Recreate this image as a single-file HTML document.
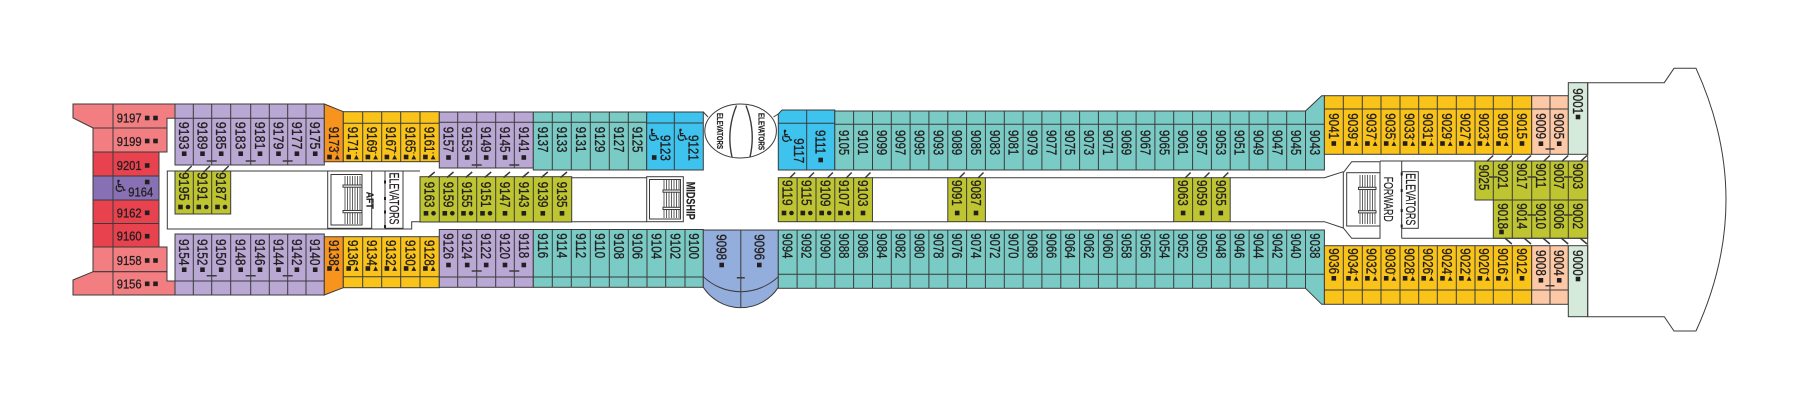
<!DOCTYPE html>
<html><head><meta charset="utf-8"><style>
html,body{margin:0;padding:0;background:#fff;}
svg{display:block}
text{font-family:"Liberation Sans",Arial,sans-serif;fill:#231f20}
.v{font-size:14.5px;stroke:#231f20;stroke-width:.3px}
.h{font-size:12.5px;stroke:#231f20;stroke-width:.3px}
.wc{font-family:"DejaVu Sans",sans-serif;font-size:17px}
.lb{stroke:#231f20;stroke-width:.2px}
</style></head><body>
<svg width="1800" height="400" viewBox="0 0 1800 400" xmlns="http://www.w3.org/2000/svg">
<defs>
<g id="s"><rect x="-2.3" y="-2.3" width="4.6" height="4.6" fill="#231f20"/></g>
<g id="st"><rect x="-6.6" y="-2.3" width="4.6" height="4.6" fill="#231f20"/><polygon points="1,2.4 5.8,2.4 3.4,-2.2" fill="#231f20"/><rect x="2.9" y="-4.8" width="1" height="1.4" fill="#231f20"/></g>
<g id="sd"><rect x="-6" y="-2.3" width="4.6" height="4.6" fill="#231f20"/><circle cx="3.8" cy="0" r="2.3" fill="#231f20"/></g>
</defs>

<g stroke="#3b3b3b" stroke-width="1" fill="none">
<!-- stern -->
<path fill="#F27E82" d="M73,104H175V118.3H167V128H93L73,118Z"/>
<rect fill="#F27E82" x="93" y="128" width="74" height="24"/>
<rect fill="#E8424F" x="93" y="152" width="66" height="24"/>
<rect fill="#8870B5" x="93" y="176" width="66" height="24"/>
<rect fill="#E8424F" x="93" y="200" width="66" height="23.5"/>
<rect fill="#E8424F" x="93" y="223.5" width="66" height="23.5"/>
<rect fill="#F27E82" x="93" y="247" width="74" height="24.7"/>
<path fill="#F27E82" d="M93,271.7H167V281H175V295H73V280Z"/>
<path d="M113,104V295"/>

<!-- aft lavender -->
<rect fill="#B9A8D4" x="175" y="104" width="149.3" height="61"/>
<path d="M193.3,104V165M211.7,104V165M230.7,104V165M250.7,104V165M269.3,104V165M287.7,104V165M306,104V165M175,118.3H324.3"/>
<rect fill="#B9A8D4" x="175" y="234" width="149.3" height="61"/>
<path d="M193.3,234V295M211.7,234V295M230.7,234V295M250.7,234V295M269.3,234V295M287.7,234V295M306,234V295M175,281H324.3"/>

<!-- orange -->
<path fill="#F7941E" d="M324.3,104L343.3,111.7V161.7H324.3Z"/>
<path fill="#F7941E" d="M324.3,236.7H343.3V287.7L324.3,295Z"/>

<!-- yellow aft -->
<rect fill="#F9C31A" x="343.3" y="111.7" width="96" height="50"/>
<path d="M362.7,111.7V161.7M381.7,111.7V161.7M400.7,111.7V161.7M420,111.7V161.7M343.3,123.3H439.3"/>
<rect fill="#F9C31A" x="343.3" y="236.7" width="96" height="51"/>
<path d="M362.7,236.7V287.7M381.7,236.7V287.7M400.7,236.7V287.7M420,236.7V287.7M343.3,276.7H439.3"/>

<!-- lavender mid -->
<rect fill="#B9A8D4" x="439.3" y="112" width="94" height="56"/>
<path d="M457.7,112V168M476.7,112V168M495.7,112V168M514.3,112V168M439.3,122.3H533.3"/>
<rect fill="#B9A8D4" x="439.3" y="229.5" width="94" height="57.8"/>
<path d="M457.7,229.5V287.3M476.7,229.5V287.3M495.7,229.5V287.3M514.3,229.5V287.3M439.3,277H533.3"/>

<!-- teal mid -->
<rect fill="#7ACBC6" x="533.3" y="112" width="113.4" height="58"/>
<path d="M552.3,112V170M571.3,112V170M590.3,112V170M609.3,112V170M628.3,112V170M533.3,122.3H646.7"/>
<rect fill="#3DC3EE" x="646.7" y="112" width="56.6" height="58"/>
<path d="M674.3,112V170M646.7,123H703.3M703.3,112L708,117"/>
<rect fill="#7ACBC6" x="533.3" y="229.5" width="170" height="57.8"/>
<path d="M552.3,229.5V287.3M571.3,229.5V287.3M590.3,229.5V287.3M609.3,229.5V287.3M628.3,229.5V287.3M647,229.5V287.3M665.7,229.5V287.3M685,229.5V287.3M533.3,277H703.3"/>

<!-- periwinkle -->
<path fill="#93ADDD" d="M703.3,230H778.3V287.3A44.7,44.7 0 0 1 703.3,287.3Z"/>
<path d="M703.3,276.7A54.4,54.4 0 0 0 778.3,276.7M740.8,230V307.7"/>

<!-- elevator ellipse -->
<ellipse fill="#fff" cx="740.6" cy="131" rx="35.8" ry="27"/>
<path d="M773.5,117L778.3,114"/>
<path stroke-width="1.4" d="M736.5,105.5Q726,131 732,157M746,105.5Q756,131 750,157"/>

<!-- blue right -->
<path fill="#3DC3EE" d="M778.3,114L782,110H834.8V170H778.3Z"/>
<path d="M806.7,110V170M778.3,123.3H834.8"/>

<!-- teal main top -->
<rect fill="#7ACBC6" x="834.8" y="111" width="470.7" height="59"/>
<path fill="#7ACBC6" d="M1305.5,111L1321.7,95.7H1324.4V170H1305.5Z"/>
<path d="M853.6,111V170M872.5,111V170M891.3,111V170M910.1,111V170M928.9,111V170M947.8,111V170M966.6,111V170M985.4,111V170M1004.3,111V170M1023.1,111V170M1041.9,111V170M1060.8,111V170M1079.6,111V170M1098.4,111V170M1117.2,111V170M1136.1,111V170M1154.9,111V170M1173.7,111V170M1192.6,111V170M1211.4,111V170M1230.2,111V170M1249.1,111V170M1267.9,111V170M1286.7,111V170M834.8,124.3H1324.4"/>

<!-- teal main bottom -->
<rect fill="#7ACBC6" x="778.3" y="230" width="527.2" height="58.3"/>
<path fill="#7ACBC6" d="M1305.5,230H1324.4V304.3H1321.7L1305.5,288.3Z"/>
<path d="M797.1,230V288.3M816,230V288.3M834.8,230V288.3M853.6,230V288.3M872.5,230V288.3M891.3,230V288.3M910.1,230V288.3M928.9,230V288.3M947.8,230V288.3M966.6,230V288.3M985.4,230V288.3M1004.3,230V288.3M1023.1,230V288.3M1041.9,230V288.3M1060.8,230V288.3M1079.6,230V288.3M1098.4,230V288.3M1117.2,230V288.3M1136.1,230V288.3M1154.9,230V288.3M1173.7,230V288.3M1192.6,230V288.3M1211.4,230V288.3M1230.2,230V288.3M1249.1,230V288.3M1267.9,230V288.3M1286.7,230V288.3M778.3,274.3H1324.4"/>

<!-- forward yellow / peach / mint -->
<rect fill="#F9C31A" x="1324.4" y="95.7" width="207.3" height="58.6"/>
<path d="M1343.3,95.7V154.3M1362.3,95.7V154.3M1381,95.7V154.3M1400,95.7V154.3M1418.7,95.7V154.3M1437.3,95.7V154.3M1456.3,95.7V154.3M1475,95.7V154.3M1493.3,95.7V154.3M1512.3,95.7V154.3M1324.4,109H1531.7"/>
<rect fill="#FCC8A6" x="1531.7" y="95.7" width="36.6" height="58.6"/>
<path d="M1550,95.7V154.3M1531.7,109H1568.3"/>
<rect fill="#D5EADB" x="1568.3" y="82.7" width="19.4" height="71.6"/>
<rect fill="#F9C31A" x="1324.4" y="245.7" width="207.3" height="58.6"/>
<path d="M1343.3,245.7V304.3M1362.3,245.7V304.3M1381,245.7V304.3M1400,245.7V304.3M1418.7,245.7V304.3M1437.3,245.7V304.3M1456.3,245.7V304.3M1475,245.7V304.3M1493.3,245.7V304.3M1512.3,245.7V304.3M1324.4,290H1531.7"/>
<rect fill="#FCC8A6" x="1531.7" y="245.7" width="36.6" height="58.6"/>
<path d="M1550,245.7V304.3M1531.7,290H1568.3"/>
<rect fill="#D5EADB" x="1568.3" y="245.7" width="19.4" height="71"/>

<!-- olive -->
<rect fill="#BEC530" x="175" y="171" width="55.7" height="43"/>
<path d="M193.3,171V214M211.7,171V214"/>
<rect fill="#BEC530" x="420" y="176.7" width="151.7" height="45.3"/>
<path d="M439.3,176.7V222M457.7,176.7V222M476.7,176.7V222M495.7,176.7V222M514.3,176.7V222M533.3,176.7V222M552.3,176.7V222"/>
<rect fill="#BEC530" x="778.3" y="177.7" width="94.15" height="44"/>
<path d="M797.1,177.7V221.7M816,177.7V221.7M834.8,177.7V221.7M853.6,177.7V221.7"/>
<rect fill="#BEC530" x="947.8" y="177.7" width="37.6" height="44"/>
<path d="M966.6,177.7V221.7"/>
<rect fill="#BEC530" x="1173.7" y="177.7" width="56.5" height="44"/>
<path d="M1192.6,177.7V221.7M1211.4,177.7V221.7"/>
<rect fill="#BEC530" x="1475" y="161" width="112.7" height="39"/>
<path d="M1493.3,161V200M1512.3,161V200M1531.7,161V200M1550,161V200M1568.3,161V200"/>
<rect fill="#BEC530" x="1493.3" y="200" width="94.4" height="38.3"/>
<path d="M1512.3,200V238.3M1531.7,200V238.3M1550,200V238.3M1568.3,200V238.3"/>

<!-- corridor lines -->
<path d="M420,171H167.3V229H411.7V221.7H420"/>
<path d="M571.7,177.7H646.7M571.7,221.7H646.7"/>
<path d="M872.4,177.7H947.8M985.4,177.7H1173.7M1230.2,177.7H1324.4L1343.3,171.7M872.4,221.7H947.8M985.4,221.7H1173.7M1230.2,221.7H1324.4L1343.3,228"/>
<path d="M1380,161H1587.7M1401.7,238.3H1587.7M1587.7,82.7V316.7"/>

<!-- AFT stairs -->
<rect fill="#fff" x="327.7" y="171" width="44" height="57.3"/>
<rect x="331" y="174.5" width="31" height="50.5"/>
<path stroke-width="0.8" d="M345,176V224M347.5,176V224M350,176V224M352.5,176V224M355,176V224M357.5,176V224M360,176V224"/>
<rect fill="#fff" x="343" y="185" width="19" height="2.2"/>
<rect fill="#fff" x="343" y="210.5" width="19" height="2.2"/>
<rect fill="#fff" x="385" y="171" width="18" height="57.3"/>

<!-- MIDSHIP stairs -->
<rect fill="#fff" x="646.7" y="176.7" width="36.6" height="45"/>
<rect x="649.5" y="179.5" width="31" height="39.5"/>
<path stroke-width="0.8" d="M664,180V218M666.5,180V218M669,180V218M671.5,180V218M674,180V218M676.5,180V218M679,180V218"/>
<rect fill="#fff" x="663" y="190" width="17.5" height="2.2"/>
<rect fill="#fff" x="663" y="207.3" width="17.5" height="2.2"/>

<!-- FORWARD stairs -->
<path fill="#fff" d="M1343.3,172.7L1351.7,161.7H1380V238.3H1351.7L1343.3,228Z"/>
<rect x="1346.7" y="172.7" width="33.3" height="53.3"/>
<path stroke-width="0.8" d="M1360,175V224M1362.5,175V224M1365,175V224M1367.5,175V224M1370,175V224M1372.5,175V224M1375,175V224"/>
<rect fill="#fff" x="1358.5" y="187.3" width="17.5" height="2.2"/>
<rect fill="#fff" x="1358.5" y="210.7" width="17.5" height="2.2"/>
<path d="M1401.7,161V238.3"/>
<rect fill="#fff" x="1401.7" y="171.7" width="16.6" height="56.6"/>

<!-- bow -->
<path d="M1587.7,82.7H1664.3L1674,68.3H1696Q1756,200 1696,331H1674L1664.3,316.7H1587.7"/>

<!-- ticks -->
<path stroke-width="1.5" d="M206.7,161H216.7M245.7,161H255.7M282.7,161H292.7M206.7,275.7H216.7M245.7,275.7H255.7M282.7,275.7H292.7M471.7,165H481.7M509.3,165H519.3M471.7,271H481.7M509.3,271H519.3M736.8,277.7H744.8M1545.5,149H1554.5M1545.5,285.7H1554.5M1489,177H1497.6M1527.4,177H1536M1564,177H1572.6M1527.4,215H1536M1564,215H1572.6"/>

<!-- slashes -->
<path stroke-width="1.5" d="M185.2,172.3L191.7,166M203.5,172.3L210,166M222.2,172.3L228.7,166M428.2,177.5L434.7,172M447,177.5L453.5,172M465.7,177.5L472.2,172M484.7,177.5L491.2,172M503.5,177.5L510,172M522.3,177.5L528.8,172M541.3,177.5L547.8,172M560.5,177.5L567,172M789.7,178L795.2,172.5M808.5,178L814,172.5M827.4,178L832.9,172.5M846.2,178L851.7,172.5M865,178L870.5,172.5M959.2,178L964.7,172.5M978,178L983.5,172.5M1185.1,178L1190.6,172.5M1204,178L1209.5,172.5M1222.8,178L1228.3,172.5M1486.7,161.5L1493.2,155.5M1505.3,161.5L1511.8,155.5M1524.5,161.5L1531,155.5M1543.4,161.5L1549.9,155.5M1561.7,161.5L1568.2,155.5M1580.5,161.5L1587,155.5M1504.8,238L1511.8,244M1524,238L1531,244M1542.9,238L1549.9,244M1561.2,238L1568.2,244M1580,238L1587,244"/>
</g>

<!-- elevator box ticks -->
<g fill="#231f20">
<rect x="384" y="180.5" width="2" height="3"/><rect x="384" y="197" width="2" height="3"/><rect x="384" y="210.5" width="2" height="3"/><rect x="384" y="225" width="2" height="3"/>
<rect x="1400.7" y="172.5" width="2" height="3"/><rect x="1400.7" y="189" width="2" height="3"/><rect x="1400.7" y="209" width="2" height="3"/><rect x="1400.7" y="224.5" width="2" height="3"/>
</g>

<!-- horizontal stern labels -->
<text class="h" x="116.7" y="122.7" textLength="25" lengthAdjust="spacingAndGlyphs">9197</text>
<text class="h" x="116.7" y="146" textLength="25" lengthAdjust="spacingAndGlyphs">9199</text>
<text class="h" x="116.7" y="170" textLength="25" lengthAdjust="spacingAndGlyphs">9201</text>
<text class="h" x="128.3" y="196.7" textLength="25" lengthAdjust="spacingAndGlyphs">9164</text>
<text class="h" x="116.7" y="217.3" textLength="25" lengthAdjust="spacingAndGlyphs">9162</text>
<text class="h" x="116.7" y="240.7" textLength="25" lengthAdjust="spacingAndGlyphs">9160</text>
<text class="h" x="116.7" y="265" textLength="25" lengthAdjust="spacingAndGlyphs">9158</text>
<text class="h" x="116.7" y="288.3" textLength="25" lengthAdjust="spacingAndGlyphs">9156</text>
<text class="wc" x="113" y="192">♿</text>
<text class="wc" x="646.5" y="141">♿</text>
<text class="wc" x="675" y="141">♿</text>
<text class="wc" x="779.5" y="142">♿</text>

<!-- icons -->
<g>
<use href="#s" x="147.2" y="118"/><use href="#s" x="155.5" y="118"/>
<use href="#s" x="147.2" y="141"/><use href="#s" x="155.5" y="141"/>
<use href="#s" x="147.2" y="165.5"/>
<use href="#s" x="147.2" y="182"/>
<use href="#s" x="147.2" y="212.8"/>
<use href="#s" x="147.2" y="236.2"/>
<use href="#s" x="147.2" y="260.5"/><use href="#s" x="155.5" y="260.5"/>
<use href="#s" x="147.2" y="283.8"/><use href="#s" x="155.5" y="283.8"/>

<use href="#s" x="184.2" y="153.7"/><use href="#s" x="202.5" y="153.7"/><use href="#s" x="221.2" y="153.7"/><use href="#s" x="240.7" y="153.7"/><use href="#s" x="260" y="153.7"/><use href="#s" x="278.5" y="153.7"/><use href="#s" x="296.9" y="153.7"/><use href="#s" x="315.2" y="153.7"/>
<use href="#s" x="184.2" y="269.7"/><use href="#s" x="202.5" y="269.7"/><use href="#s" x="221.2" y="269.7"/><use href="#s" x="240.7" y="269.7"/><use href="#s" x="260" y="269.7"/><use href="#s" x="278.5" y="269.7"/><use href="#s" x="296.9" y="269.7"/><use href="#s" x="315.2" y="269.7"/>

<use href="#st" x="333.8" y="157"/><use href="#st" x="353" y="157"/><use href="#st" x="372.2" y="157"/><use href="#st" x="391.2" y="157"/><use href="#st" x="410.4" y="157"/><use href="#st" x="429.7" y="157"/>
<use href="#st" x="333.8" y="268.5"/><use href="#st" x="353" y="268.5"/><use href="#st" x="372.2" y="268.5"/><use href="#st" x="391.2" y="268.5"/><use href="#st" x="410.4" y="268.5"/><use href="#st" x="429.7" y="268.5"/>

<use href="#s" x="448.5" y="157.5"/><use href="#s" x="467.2" y="157.5"/><use href="#s" x="486.2" y="157.5"/><use href="#s" x="505" y="157.5"/><use href="#s" x="523.8" y="157.5"/>
<use href="#s" x="448.5" y="265"/><use href="#s" x="467.2" y="265"/><use href="#s" x="486.2" y="265"/><use href="#s" x="505" y="265"/><use href="#s" x="523.8" y="265"/>

<use href="#sd" x="184.2" y="207"/><use href="#sd" x="202.5" y="207"/><use href="#sd" x="221.2" y="207"/>
<use href="#sd" x="429.7" y="213.3"/><use href="#sd" x="448.5" y="213.3"/><use href="#sd" x="467.2" y="213.3"/><use href="#sd" x="486.2" y="213.3"/>
<use href="#s" x="505" y="213.3"/><use href="#s" x="523.8" y="213.3"/><use href="#s" x="542.8" y="213.3"/><use href="#s" x="562" y="213.3"/>

<use href="#s" x="654.2" y="157.5"/><use href="#s" x="820.7" y="160"/>
<use href="#s" x="721.7" y="265"/><use href="#s" x="759.3" y="265"/>

<use href="#sd" x="787.7" y="213"/><use href="#sd" x="806.5" y="213"/><use href="#sd" x="825.4" y="213"/><use href="#sd" x="844.2" y="213"/>
<use href="#s" x="863" y="213"/><use href="#s" x="957.2" y="213"/><use href="#s" x="976" y="213"/><use href="#s" x="1183.1" y="213"/><use href="#s" x="1202" y="213"/><use href="#s" x="1220.8" y="213"/>

<use href="#s" x="1333.8" y="143.5"/>
<use href="#st" x="1352.8" y="143.5"/><use href="#st" x="1371.7" y="143.5"/><use href="#st" x="1390.5" y="143.5"/><use href="#st" x="1409.4" y="143.5"/><use href="#st" x="1428" y="143.5"/><use href="#st" x="1446.8" y="143.5"/><use href="#st" x="1465.7" y="143.5"/><use href="#st" x="1484.2" y="143.5"/><use href="#st" x="1502.8" y="143.5"/>
<use href="#s" x="1522" y="143.5"/><use href="#s" x="1540.9" y="143.7"/><use href="#s" x="1559.2" y="143.7"/>
<use href="#s" x="1578" y="117"/>

<use href="#s" x="1333.8" y="278.3"/>
<use href="#st" x="1352.8" y="278.3"/><use href="#st" x="1371.7" y="278.3"/><use href="#st" x="1390.5" y="278.3"/><use href="#st" x="1409.4" y="278.3"/><use href="#st" x="1428" y="278.3"/><use href="#st" x="1446.8" y="278.3"/><use href="#st" x="1465.7" y="278.3"/><use href="#st" x="1484.2" y="278.3"/><use href="#st" x="1502.8" y="278.3"/>
<use href="#s" x="1522" y="278.3"/><use href="#s" x="1540.9" y="280.3"/><use href="#s" x="1559.2" y="280.3"/>
<use href="#s" x="1578" y="279"/>
<use href="#s" x="1501.5" y="232"/>
</g>

<!-- vertical labels: aft lavender -->
<text class="v" transform="translate(179.2,121.7)rotate(90)scale(.86,1)">9193</text>
<text class="v" transform="translate(197.5,121.7)rotate(90)scale(.86,1)">9189</text>
<text class="v" transform="translate(216.2,121.7)rotate(90)scale(.86,1)">9185</text>
<text class="v" transform="translate(235.7,121.7)rotate(90)scale(.86,1)">9183</text>
<text class="v" transform="translate(255,121.7)rotate(90)scale(.86,1)">9181</text>
<text class="v" transform="translate(273.5,121.7)rotate(90)scale(.86,1)">9179</text>
<text class="v" transform="translate(291.9,121.7)rotate(90)scale(.86,1)">9177</text>
<text class="v" transform="translate(310.2,121.7)rotate(90)scale(.86,1)">9175</text>
<text class="v" transform="translate(179.2,239)rotate(90)scale(.82,1)">9154</text>
<text class="v" transform="translate(197.5,239)rotate(90)scale(.82,1)">9152</text>
<text class="v" transform="translate(216.2,239)rotate(90)scale(.82,1)">9150</text>
<text class="v" transform="translate(235.7,239)rotate(90)scale(.82,1)">9148</text>
<text class="v" transform="translate(255,239)rotate(90)scale(.82,1)">9146</text>
<text class="v" transform="translate(273.5,239)rotate(90)scale(.82,1)">9144</text>
<text class="v" transform="translate(291.9,239)rotate(90)scale(.82,1)">9142</text>
<text class="v" transform="translate(310.2,239)rotate(90)scale(.82,1)">9140</text>

<!-- orange + yellow aft -->
<text class="v" transform="translate(328.8,126.7)rotate(90)scale(.8,1)">9173</text>
<text class="v" transform="translate(348,126.7)rotate(90)scale(.8,1)">9171</text>
<text class="v" transform="translate(367.2,126.7)rotate(90)scale(.8,1)">9169</text>
<text class="v" transform="translate(386.2,126.7)rotate(90)scale(.8,1)">9167</text>
<text class="v" transform="translate(405.4,126.7)rotate(90)scale(.8,1)">9165</text>
<text class="v" transform="translate(424.7,126.7)rotate(90)scale(.8,1)">9161</text>
<text class="v" transform="translate(328.8,240)rotate(90)scale(.8,1)">9138</text>
<text class="v" transform="translate(348,240)rotate(90)scale(.8,1)">9136</text>
<text class="v" transform="translate(367.2,240)rotate(90)scale(.8,1)">9134</text>
<text class="v" transform="translate(386.2,240)rotate(90)scale(.8,1)">9132</text>
<text class="v" transform="translate(405.4,240)rotate(90)scale(.8,1)">9130</text>
<text class="v" transform="translate(424.7,240)rotate(90)scale(.8,1)">9128</text>

<!-- lavender mid -->
<text class="v" transform="translate(443.5,126.7)rotate(90)scale(.8,1)">9157</text>
<text class="v" transform="translate(462.2,126.7)rotate(90)scale(.8,1)">9153</text>
<text class="v" transform="translate(481.2,126.7)rotate(90)scale(.8,1)">9149</text>
<text class="v" transform="translate(500,126.7)rotate(90)scale(.8,1)">9145</text>
<text class="v" transform="translate(518.8,126.7)rotate(90)scale(.8,1)">9141</text>
<text class="v" transform="translate(443.5,233.3)rotate(90)scale(.8,1)">9126</text>
<text class="v" transform="translate(462.2,233.3)rotate(90)scale(.8,1)">9124</text>
<text class="v" transform="translate(481.2,233.3)rotate(90)scale(.8,1)">9122</text>
<text class="v" transform="translate(500,233.3)rotate(90)scale(.8,1)">9120</text>
<text class="v" transform="translate(518.8,233.3)rotate(90)scale(.8,1)">9118</text>

<!-- teal mid -->
<text class="v" transform="translate(537.8,126.7)rotate(90)scale(.8,1)">9137</text>
<text class="v" transform="translate(556.8,126.7)rotate(90)scale(.8,1)">9133</text>
<text class="v" transform="translate(575.8,126.7)rotate(90)scale(.8,1)">9131</text>
<text class="v" transform="translate(594.8,126.7)rotate(90)scale(.8,1)">9129</text>
<text class="v" transform="translate(613.8,126.7)rotate(90)scale(.8,1)">9127</text>
<text class="v" transform="translate(632.5,126.7)rotate(90)scale(.8,1)">9125</text>
<text class="v" transform="translate(537.8,233.3)rotate(90)scale(.8,1)">9116</text>
<text class="v" transform="translate(556.8,233.3)rotate(90)scale(.8,1)">9114</text>
<text class="v" transform="translate(575.8,233.3)rotate(90)scale(.8,1)">9112</text>
<text class="v" transform="translate(594.8,233.3)rotate(90)scale(.8,1)">9110</text>
<text class="v" transform="translate(613.8,233.3)rotate(90)scale(.8,1)">9108</text>
<text class="v" transform="translate(632.6,233.3)rotate(90)scale(.8,1)">9106</text>
<text class="v" transform="translate(651.3,233.3)rotate(90)scale(.8,1)">9104</text>
<text class="v" transform="translate(670.3,233.3)rotate(90)scale(.8,1)">9102</text>
<text class="v" transform="translate(689.2,233.3)rotate(90)scale(.8,1)">9100</text>

<!-- blue + periwinkle -->
<text class="v" transform="translate(660.5,135)rotate(90)scale(.8,1)">9123</text>
<text class="v" transform="translate(688.5,135)rotate(90)scale(.8,1)">9121</text>
<text class="v" transform="translate(794,138.3)rotate(90)scale(.8,1)">9117</text>
<text class="v" transform="translate(815.7,130)rotate(90)scale(.8,1)">9111</text>
<text class="v" transform="translate(716.7,234.3)rotate(90)scale(.8,1)">9098</text>
<text class="v" transform="translate(754.3,234.3)rotate(90)scale(.8,1)">9096</text>

<!-- olive aft/mid -->
<text class="v" transform="translate(179.2,172.3)rotate(90)scale(.88,1)">9195</text>
<text class="v" transform="translate(197.5,172.3)rotate(90)scale(.88,1)">9191</text>
<text class="v" transform="translate(216.2,172.3)rotate(90)scale(.88,1)">9187</text>
<text class="v" transform="translate(424.7,181.7)rotate(90)scale(.8,1)">9163</text>
<text class="v" transform="translate(443.5,181.7)rotate(90)scale(.8,1)">9159</text>
<text class="v" transform="translate(462.2,181.7)rotate(90)scale(.8,1)">9155</text>
<text class="v" transform="translate(481.2,181.7)rotate(90)scale(.8,1)">9151</text>
<text class="v" transform="translate(500,181.7)rotate(90)scale(.8,1)">9147</text>
<text class="v" transform="translate(518.8,181.7)rotate(90)scale(.8,1)">9143</text>
<text class="v" transform="translate(537.8,181.7)rotate(90)scale(.8,1)">9139</text>
<text class="v" transform="translate(557,181.7)rotate(90)scale(.8,1)">9135</text>

<!-- main top teal -->
<text class="v" transform="translate(839.2,130)rotate(90)scale(.78,1)">9105</text>
<text class="v" transform="translate(858,130)rotate(90)scale(.78,1)">9101</text>
<text class="v" transform="translate(876.9,130)rotate(90)scale(.78,1)">9099</text>
<text class="v" transform="translate(895.7,130)rotate(90)scale(.78,1)">9097</text>
<text class="v" transform="translate(914.5,130)rotate(90)scale(.78,1)">9095</text>
<text class="v" transform="translate(933.4,130)rotate(90)scale(.78,1)">9093</text>
<text class="v" transform="translate(952.2,130)rotate(90)scale(.78,1)">9089</text>
<text class="v" transform="translate(971,130)rotate(90)scale(.78,1)">9085</text>
<text class="v" transform="translate(989.8,130)rotate(90)scale(.78,1)">9083</text>
<text class="v" transform="translate(1008.7,130)rotate(90)scale(.78,1)">9081</text>
<text class="v" transform="translate(1027.5,130)rotate(90)scale(.78,1)">9079</text>
<text class="v" transform="translate(1046.3,130)rotate(90)scale(.78,1)">9077</text>
<text class="v" transform="translate(1065.2,130)rotate(90)scale(.78,1)">9075</text>
<text class="v" transform="translate(1084,130)rotate(90)scale(.78,1)">9073</text>
<text class="v" transform="translate(1102.8,130)rotate(90)scale(.78,1)">9071</text>
<text class="v" transform="translate(1121.7,130)rotate(90)scale(.78,1)">9069</text>
<text class="v" transform="translate(1140.5,130)rotate(90)scale(.78,1)">9067</text>
<text class="v" transform="translate(1159.3,130)rotate(90)scale(.78,1)">9065</text>
<text class="v" transform="translate(1178.1,130)rotate(90)scale(.78,1)">9061</text>
<text class="v" transform="translate(1197,130)rotate(90)scale(.78,1)">9057</text>
<text class="v" transform="translate(1215.8,130)rotate(90)scale(.78,1)">9053</text>
<text class="v" transform="translate(1234.6,130)rotate(90)scale(.78,1)">9051</text>
<text class="v" transform="translate(1253.5,130)rotate(90)scale(.78,1)">9049</text>
<text class="v" transform="translate(1272.3,130)rotate(90)scale(.78,1)">9047</text>
<text class="v" transform="translate(1291.1,130)rotate(90)scale(.78,1)">9045</text>
<text class="v" transform="translate(1310,130)rotate(90)scale(.78,1)">9043</text>

<!-- main bottom teal -->
<text class="v" transform="translate(782.7,233.3)rotate(90)scale(.78,1)">9094</text>
<text class="v" transform="translate(801.5,233.3)rotate(90)scale(.78,1)">9092</text>
<text class="v" transform="translate(820.4,233.3)rotate(90)scale(.78,1)">9090</text>
<text class="v" transform="translate(839.2,233.3)rotate(90)scale(.78,1)">9088</text>
<text class="v" transform="translate(858,233.3)rotate(90)scale(.78,1)">9086</text>
<text class="v" transform="translate(876.9,233.3)rotate(90)scale(.78,1)">9084</text>
<text class="v" transform="translate(895.7,233.3)rotate(90)scale(.78,1)">9082</text>
<text class="v" transform="translate(914.5,233.3)rotate(90)scale(.78,1)">9080</text>
<text class="v" transform="translate(933.4,233.3)rotate(90)scale(.78,1)">9078</text>
<text class="v" transform="translate(952.2,233.3)rotate(90)scale(.78,1)">9076</text>
<text class="v" transform="translate(971,233.3)rotate(90)scale(.78,1)">9074</text>
<text class="v" transform="translate(989.8,233.3)rotate(90)scale(.78,1)">9072</text>
<text class="v" transform="translate(1008.7,233.3)rotate(90)scale(.78,1)">9070</text>
<text class="v" transform="translate(1027.5,233.3)rotate(90)scale(.78,1)">9068</text>
<text class="v" transform="translate(1046.3,233.3)rotate(90)scale(.78,1)">9066</text>
<text class="v" transform="translate(1065.2,233.3)rotate(90)scale(.78,1)">9064</text>
<text class="v" transform="translate(1084,233.3)rotate(90)scale(.78,1)">9062</text>
<text class="v" transform="translate(1102.8,233.3)rotate(90)scale(.78,1)">9060</text>
<text class="v" transform="translate(1121.7,233.3)rotate(90)scale(.78,1)">9058</text>
<text class="v" transform="translate(1140.5,233.3)rotate(90)scale(.78,1)">9056</text>
<text class="v" transform="translate(1159.3,233.3)rotate(90)scale(.78,1)">9054</text>
<text class="v" transform="translate(1178.1,233.3)rotate(90)scale(.78,1)">9052</text>
<text class="v" transform="translate(1197,233.3)rotate(90)scale(.78,1)">9050</text>
<text class="v" transform="translate(1215.8,233.3)rotate(90)scale(.78,1)">9048</text>
<text class="v" transform="translate(1234.6,233.3)rotate(90)scale(.78,1)">9046</text>
<text class="v" transform="translate(1253.5,233.3)rotate(90)scale(.78,1)">9044</text>
<text class="v" transform="translate(1272.3,233.3)rotate(90)scale(.78,1)">9042</text>
<text class="v" transform="translate(1291.1,233.3)rotate(90)scale(.78,1)">9040</text>
<text class="v" transform="translate(1310,233.3)rotate(90)scale(.78,1)">9038</text>

<!-- main olive -->
<text class="v" transform="translate(782.7,180)rotate(90)scale(.82,1)">9119</text>
<text class="v" transform="translate(801.5,180)rotate(90)scale(.82,1)">9115</text>
<text class="v" transform="translate(820.4,180)rotate(90)scale(.82,1)">9109</text>
<text class="v" transform="translate(839.2,180)rotate(90)scale(.82,1)">9107</text>
<text class="v" transform="translate(858,180)rotate(90)scale(.82,1)">9103</text>
<text class="v" transform="translate(952.2,180)rotate(90)scale(.8,1)">9091</text>
<text class="v" transform="translate(971,180)rotate(90)scale(.8,1)">9087</text>
<text class="v" transform="translate(1178.1,180)rotate(90)scale(.8,1)">9063</text>
<text class="v" transform="translate(1197,180)rotate(90)scale(.8,1)">9059</text>
<text class="v" transform="translate(1215.8,180)rotate(90)scale(.8,1)">9055</text>

<!-- forward yellow/peach/mint top -->
<text class="v" transform="translate(1328.8,113.3)rotate(90)scale(.8,1)">9041</text>
<text class="v" transform="translate(1347.8,113.3)rotate(90)scale(.8,1)">9039</text>
<text class="v" transform="translate(1366.7,113.3)rotate(90)scale(.8,1)">9037</text>
<text class="v" transform="translate(1385.5,113.3)rotate(90)scale(.8,1)">9035</text>
<text class="v" transform="translate(1404.4,113.3)rotate(90)scale(.8,1)">9033</text>
<text class="v" transform="translate(1423,113.3)rotate(90)scale(.8,1)">9031</text>
<text class="v" transform="translate(1441.8,113.3)rotate(90)scale(.8,1)">9029</text>
<text class="v" transform="translate(1460.7,113.3)rotate(90)scale(.8,1)">9027</text>
<text class="v" transform="translate(1479.2,113.3)rotate(90)scale(.8,1)">9023</text>
<text class="v" transform="translate(1497.8,113.3)rotate(90)scale(.8,1)">9019</text>
<text class="v" transform="translate(1517,113.3)rotate(90)scale(.8,1)">9015</text>
<text class="v" transform="translate(1535.9,113.3)rotate(90)scale(.8,1)">9009</text>
<text class="v" transform="translate(1554.2,113.3)rotate(90)scale(.8,1)">9005</text>
<text class="v" transform="translate(1573,88.3)rotate(90)scale(.8,1)">9001</text>

<!-- forward bottom -->
<text class="v" transform="translate(1328.8,248.3)rotate(90)scale(.8,1)">9036</text>
<text class="v" transform="translate(1347.8,248.3)rotate(90)scale(.8,1)">9034</text>
<text class="v" transform="translate(1366.7,248.3)rotate(90)scale(.8,1)">9032</text>
<text class="v" transform="translate(1385.5,248.3)rotate(90)scale(.8,1)">9030</text>
<text class="v" transform="translate(1404.4,248.3)rotate(90)scale(.8,1)">9028</text>
<text class="v" transform="translate(1423,248.3)rotate(90)scale(.8,1)">9026</text>
<text class="v" transform="translate(1441.8,248.3)rotate(90)scale(.8,1)">9024</text>
<text class="v" transform="translate(1460.7,248.3)rotate(90)scale(.8,1)">9022</text>
<text class="v" transform="translate(1479.2,248.3)rotate(90)scale(.8,1)">9020</text>
<text class="v" transform="translate(1497.8,248.3)rotate(90)scale(.8,1)">9016</text>
<text class="v" transform="translate(1517,248.3)rotate(90)scale(.8,1)">9012</text>
<text class="v" transform="translate(1535.9,250)rotate(90)scale(.8,1)">9008</text>
<text class="v" transform="translate(1554.2,250)rotate(90)scale(.8,1)">9004</text>
<text class="v" transform="translate(1573,250)rotate(90)scale(.8,1)">9000</text>

<!-- forward olive -->
<text class="v" transform="translate(1479.2,164.5)rotate(90)scale(.8,1)">9025</text>
<text class="v" transform="translate(1497.8,163.3)rotate(90)scale(.8,1)">9021</text>
<text class="v" transform="translate(1517,163.3)rotate(90)scale(.8,1)">9017</text>
<text class="v" transform="translate(1535.9,163.3)rotate(90)scale(.8,1)">9011</text>
<text class="v" transform="translate(1554.2,163.3)rotate(90)scale(.8,1)">9007</text>
<text class="v" transform="translate(1573,163.3)rotate(90)scale(.8,1)">9003</text>
<text class="v" transform="translate(1497.8,203.3)rotate(90)scale(.8,1)">9018</text>
<text class="v" transform="translate(1517,203.3)rotate(90)scale(.8,1)">9014</text>
<text class="v" transform="translate(1535.9,203.3)rotate(90)scale(.8,1)">9010</text>
<text class="v" transform="translate(1554.2,203.3)rotate(90)scale(.8,1)">9006</text>
<text class="v" transform="translate(1573,203.3)rotate(90)scale(.8,1)">9002</text>

<!-- area labels -->
<text class="lb" transform="translate(717.2,113)rotate(90)" font-size="8.5" font-weight="bold" textLength="36" lengthAdjust="spacingAndGlyphs">ELEVATORS</text>
<text class="lb" transform="translate(758.6,113)rotate(90)" font-size="8.5" font-weight="bold" textLength="37" lengthAdjust="spacingAndGlyphs">ELEVATORS</text>
<text class="lb" transform="translate(389.5,172.5)rotate(90)" font-size="13.5" textLength="52" lengthAdjust="spacingAndGlyphs">ELEVATORS</text>
<text class="lb" transform="translate(366.5,191.7)rotate(90)" font-size="10" font-weight="bold" textLength="17" lengthAdjust="spacingAndGlyphs">AFT</text>
<text class="lb" transform="translate(686.5,181.7)rotate(90)" font-size="11.5" font-weight="bold" textLength="38" lengthAdjust="spacingAndGlyphs">MIDSHIP</text>
<text class="lb" transform="translate(1384,176.7)rotate(90)" font-size="13" textLength="45" lengthAdjust="spacingAndGlyphs">FORWARD</text>
<text class="lb" transform="translate(1406,173.3)rotate(90)" font-size="13.5" textLength="52" lengthAdjust="spacingAndGlyphs">ELEVATORS</text>
</svg>
</body></html>
